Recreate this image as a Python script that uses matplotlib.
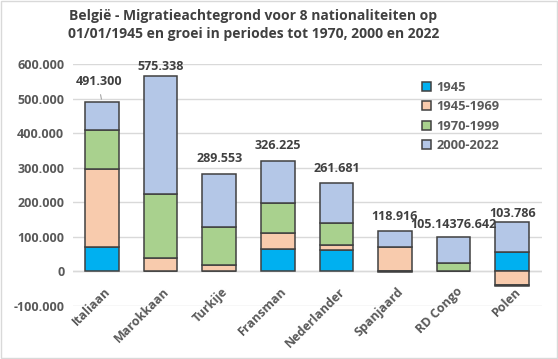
import numpy as np
import matplotlib.pyplot as plt
from matplotlib.patches import Rectangle
from matplotlib.ticker import FuncFormatter

# data
cats = ['Italiaan', 'Marokkaan', 'Turkije', 'Fransman', 'Nederlander', 'Spanjaard', 'RD Congo', 'Polen']
s1945 = [71000, 0, 0, 65000, 63000, 1500, 0, 57000]
s4569 = [227000, 40000, 19500, 46000, 14500, 70000, 0, -40000]
s7099 = [112000, 185000, 110500, 87000, 62500, -2500, 25000, -2000]
s0022 = [81000, 340000, 153500, 123000, 117500, 46500, 75500, 87000]
totals = ['491.300', '575.338', '289.553', '326.225', '261.681', '118.916', '105.14376.642', '103.786']
series_names = ['1945', '1945-1969', '1970-1999', '2000-2022']

colors = ['#00B0F0', '#F8CBAD', '#A9D18E', '#B4C7E7']
edge = '#404040'
txt = '#595959'
plt.rcParams['font.family'] = ['Open Sans', 'DejaVu Sans']
plt.rcParams['font.weight'] = 'bold'

fig = plt.figure(figsize=(5.58, 3.59), dpi=100)
ax = fig.add_axes([72.7 / 558, 1 - 306 / 359, (541.5 - 72.7) / 558, (306 - 64.3) / 359])

x = np.arange(len(cats))
pos = np.zeros(len(cats))
neg = np.zeros(len(cats))
for vals, col, name in zip([s1945, s4569, s7099, s0022], colors, series_names):
    v = np.array(vals, dtype=float)
    bottom = np.where(v >= 0, pos, neg)
    ax.bar(x, v, 0.57, bottom=bottom, color=col, edgecolor=edge, linewidth=1.1,
           label=name, zorder=3)
    pos += np.where(v >= 0, v, 0)
    neg += np.where(v < 0, v, 0)

# total labels above the bars (offsets in pixels)
offs = [20, 10, 15, 15, 14.5, 14.5, 12, 8.5]
dx = [-3, 0, 0, 0, 0, 0, 0, 0]
for i, lab in enumerate(totals):
    ax.annotate(lab, (x[i], pos[i]), xytext=(dx[i] * 0.72, offs[i] * 0.72),
                textcoords='offset points', ha='center', va='center',
                fontsize=9, color='#404040', zorder=5)
# leader line for Italiaan
ax.annotate('', (x[0], pos[0]), xytext=(-2 * 0.72, 10 * 0.72), textcoords='offset points',
            arrowprops=dict(arrowstyle='-', color='#A6A6A6', lw=0.8))

ax.set_ylim(-100000, 600000)
ax.set_xlim(-0.5, len(cats) - 0.5)
ax.set_yticks(np.arange(-100000, 600001, 100000))
ax.yaxis.set_major_formatter(FuncFormatter(lambda v, p: f'{int(v):,}'.replace(',', '.')))
ax.grid(axis='y', color='#D9D9D9', linewidth=1, zorder=0)
ax.axhline(0, color='#D9D9D9', linewidth=1, zorder=1)
for s in ax.spines.values():
    s.set_visible(False)
ax.tick_params(length=0, labelsize=9, labelcolor=txt, pad=6)
ax.set_xticks(x)
ax.set_xticklabels([])
for i, c in enumerate(cats):
    ax.annotate(c, (x[i], 0), xycoords=('data', 'axes fraction'), xytext=(2 * 0.72, 21 * 0.72),
                textcoords='offset points', rotation=45, ha='right', va='top',
                rotation_mode='anchor', fontsize=9, color=txt)

ax.legend(loc='upper left', bbox_to_anchor=(0.72, 0.98), frameon=False,
          labelcolor=txt, handlelength=0.7, handleheight=0.7, handletextpad=0.4,
          labelspacing=0.5, prop={'weight': 'bold', 'size': 9.3})

fig.suptitle('België - Migratieachtegrond voor 8 nationaliteiten op\n01/01/1945 en groei in periodes tot 1970, 2000 en 2022',
             x=0.454, y=0.975, fontsize=10, fontweight='bold', color='#404040', linespacing=1.4)

fig.patches.append(Rectangle((0.002, 0.002), 0.996, 0.996, transform=fig.transFigure,
                             fill=False, edgecolor='#D9D9D9', linewidth=1))

fig.savefig('out.png', dpi=100)
